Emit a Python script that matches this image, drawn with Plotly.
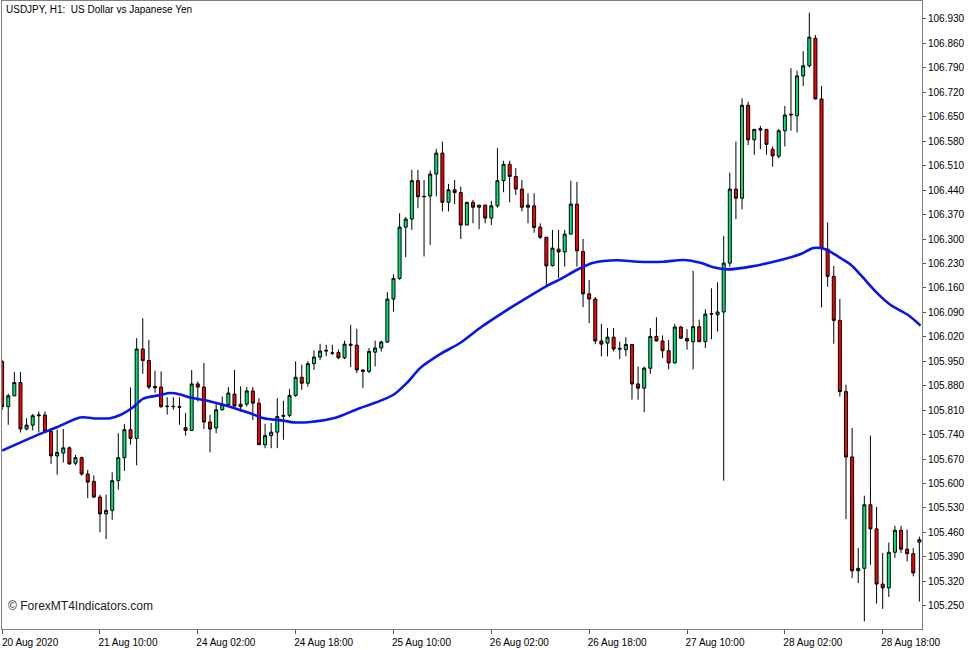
import plotly.graph_objects as go

# ---- data (USDJPY H1) ----
bar_index = list(range(151))

opens = [105.949, 105.820, 105.851, 105.889, 105.756, 105.767, 105.794, 105.796, 105.749, 105.679,
         105.687, 105.702, 105.658, 105.674, 105.627, 105.606, 105.561, 105.513, 105.523, 105.608,
         105.674, 105.754, 105.729, 105.985, 105.952, 105.878, 105.876, 105.820, 105.821, 105.820,
         105.760, 105.752, 105.885, 105.876, 105.776, 105.759, 105.811, 105.826, 105.856, 105.827,
         105.827, 105.865, 105.830, 105.711, 105.737, 105.747, 105.792, 105.795, 105.852, 105.904,
         105.887, 105.943, 105.962, 105.979, 105.974, 105.975, 105.960, 105.999, 105.996, 105.925,
         105.921, 105.976, 105.988, 106.005, 106.128, 106.187, 106.334, 106.357, 106.467, 106.421,
         106.423, 106.486, 106.546, 106.405, 106.441, 106.433, 106.340, 106.405, 106.391, 106.397,
         106.360, 106.395, 106.467, 106.514, 106.479, 106.443, 106.391, 106.395, 106.334, 106.305,
         106.224, 106.271, 106.263, 106.314, 106.400, 106.264, 106.143, 106.128, 106.008, 106.002,
         106.019, 105.987, 105.983, 105.998, 105.885, 105.873, 105.930, 106.021, 106.008, 105.980,
         105.945, 106.048, 106.015, 106.006, 106.049, 106.006, 106.085, 106.083, 106.091, 106.231,
         106.443, 106.417, 106.683, 106.584, 106.616, 106.614, 106.557, 106.537, 106.610, 106.655,
         106.653, 106.767, 106.796, 106.875, 106.701, 106.271, 106.193, 106.067, 105.863, 105.676,
         105.350, 105.357, 105.539, 105.470, 105.312, 105.301, 105.403, 105.466, 105.412, 105.399,
         105.432]

highs = [105.954, 105.857, 105.919, 105.919, 105.787, 105.799, 105.806, 105.806, 105.754, 105.754,
         105.756, 105.706, 105.682, 105.677, 105.639, 105.623, 105.568, 105.568, 105.632, 105.744,
         105.770, 105.875, 106.016, 106.073, 106.011, 105.923, 105.921, 105.847, 105.847, 105.847,
         105.802, 105.925, 105.892, 105.945, 105.797, 105.830, 105.849, 105.876, 105.925, 105.878,
         105.876, 105.876, 105.844, 105.771, 105.773, 105.844, 105.837, 105.871, 105.950, 105.940,
         105.950, 105.981, 106.000, 105.997, 105.997, 105.983, 106.009, 106.054, 106.043, 105.926,
         105.988, 106.009, 106.009, 106.148, 106.199, 106.374, 106.363, 106.498, 106.498, 106.469,
         106.496, 106.558, 106.579, 106.458, 106.469, 106.450, 106.406, 106.412, 106.398, 106.398,
         106.409, 106.560, 106.524, 106.524, 106.503, 106.469, 106.431, 106.431, 106.345, 106.306,
         106.326, 106.326, 106.326, 106.467, 106.464, 106.300, 106.183, 106.134, 106.057, 106.045,
         106.045, 106.006, 106.019, 105.999, 105.935, 105.935, 106.045, 106.076, 106.024, 106.011,
         106.057, 106.051, 106.042, 106.209, 106.069, 106.099, 106.159, 106.176, 106.309, 106.490,
         106.579, 106.703, 106.693, 106.615, 106.624, 106.615, 106.565, 106.615, 106.681, 106.789,
         106.782, 106.838, 106.948, 106.884, 106.738, 106.347, 106.223, 106.128, 105.883, 105.759,
         105.415, 105.565, 105.737, 105.533, 105.401, 105.431, 105.479, 105.479, 105.468, 105.415,
         105.448]

lows = [105.811, 105.768, 105.850, 105.746, 105.752, 105.752, 105.746, 105.744, 105.656, 105.625,
        105.660, 105.654, 105.652, 105.622, 105.558, 105.558, 105.460, 105.441, 105.496, 105.582,
        105.636, 105.711, 105.652, 105.914, 105.870, 105.860, 105.816, 105.797, 105.811, 105.768,
        105.737, 105.750, 105.835, 105.756, 105.689, 105.744, 105.809, 105.820, 105.820, 105.806,
        105.820, 105.782, 105.710, 105.701, 105.701, 105.701, 105.725, 105.790, 105.848, 105.868,
        105.877, 105.925, 105.954, 105.964, 105.968, 105.956, 105.956, 105.933, 105.916, 105.873,
        105.916, 105.935, 105.978, 106.003, 106.092, 106.183, 106.248, 106.326, 106.388, 106.250,
        106.283, 106.422, 106.379, 106.379, 106.400, 106.300, 106.340, 106.345, 106.328, 106.345,
        106.340, 106.390, 106.434, 106.405, 106.426, 106.379, 106.345, 106.318, 106.300, 106.166,
        106.221, 106.188, 106.221, 106.313, 106.221, 106.105, 106.059, 105.999, 105.964, 105.964,
        105.978, 105.956, 105.964, 105.840, 105.840, 105.804, 105.914, 106.007, 105.959, 105.927,
        105.944, 106.015, 105.983, 105.927, 106.005, 105.988, 106.013, 106.035, 105.608, 106.221,
        106.357, 106.385, 106.569, 106.541, 106.557, 106.541, 106.507, 106.531, 106.565, 106.610,
        106.605, 106.738, 106.791, 106.700, 106.104, 106.163, 106.000, 105.849, 105.498, 105.329,
        105.315, 105.205, 105.367, 105.256, 105.241, 105.275, 105.387, 105.401, 105.377, 105.334,
        105.262]

closes = [105.820, 105.851, 105.889, 105.756, 105.767, 105.794, 105.796, 105.749, 105.679, 105.689,
          105.702, 105.656, 105.674, 105.627, 105.604, 105.561, 105.513, 105.523, 105.608, 105.674,
          105.754, 105.729, 105.985, 105.952, 105.876, 105.874, 105.820, 105.821, 105.820, 105.818,
          105.752, 105.885, 105.876, 105.776, 105.756, 105.811, 105.826, 105.859, 105.822, 105.820,
          105.865, 105.830, 105.711, 105.737, 105.747, 105.792, 105.795, 105.852, 105.904, 105.887,
          105.943, 105.962, 105.979, 105.981, 105.973, 105.960, 105.999, 105.996, 105.925, 105.921,
          105.978, 105.988, 106.005, 106.128, 106.187, 106.334, 106.357, 106.467, 106.421, 106.422,
          106.486, 106.546, 106.405, 106.441, 106.433, 106.340, 106.405, 106.391, 106.397, 106.360,
          106.395, 106.467, 106.514, 106.479, 106.443, 106.391, 106.397, 106.333, 106.305, 106.223,
          106.274, 106.263, 106.314, 106.400, 106.266, 106.143, 106.128, 106.008, 105.999, 106.019,
          105.985, 105.985, 105.998, 105.885, 105.873, 105.930, 106.021, 106.008, 105.980, 105.945,
          106.048, 106.016, 106.008, 106.049, 106.006, 106.085, 106.086, 106.091, 106.231, 106.443,
          106.417, 106.683, 106.584, 106.614, 106.612, 106.571, 106.538, 106.610, 106.655, 106.657,
          106.767, 106.796, 106.878, 106.701, 106.274, 106.193, 106.067, 105.863, 105.676, 105.350,
          105.357, 105.539, 105.470, 105.312, 105.301, 105.403, 105.466, 105.412, 105.399, 105.344,
          105.439]

# moving average line (bar position, price)
ma_x = [0, 2.93, 6.2, 8.94, 12.75, 15.48, 17.66, 19.3, 21.47, 23.1, 25.84, 27.48, 29.1, 30.75,
        34.03, 37.3, 40.57, 42.75, 46.0, 47.66, 50.4, 54.5, 58.25, 61.0, 64.0, 66.2, 68.4, 71.7,
        74.95, 78.2, 82.6, 84.7, 89.1, 91.3, 94.04, 96.7, 100.6, 103.9, 108.2, 111.4, 114.2, 116.3,
        118.6, 122.4, 127.8, 130.6, 132.7, 134.4, 135.5, 137.6, 138.8, 140.4, 143.1, 145.3, 148.1,
        150.2]
ma_y = [105.694, 105.717, 105.742, 105.761, 105.789, 105.786, 105.787, 105.796, 105.819, 105.843,
        105.853, 105.859, 105.855, 105.846, 105.835, 105.820, 105.801, 105.787, 105.780, 105.775,
        105.776, 105.788, 105.814, 105.831, 105.854, 105.888, 105.931, 105.971, 106.003, 106.046,
        106.097, 106.120, 106.166, 106.185, 106.212, 106.232, 106.239, 106.235, 106.235, 106.240,
        106.232, 106.219, 106.213, 106.221, 106.242, 106.257, 106.274, 106.272, 106.263, 106.240,
        106.226, 106.197, 106.145, 106.111, 106.083, 106.052]

x_tick_pos = [0, 16, 32, 48, 64, 80, 96, 112, 128, 144]
x_tick_text = ["20 Aug 2020", "21 Aug 10:00", "24 Aug 02:00", "24 Aug 18:00", "25 Aug 10:00",
               "26 Aug 02:00", "26 Aug 18:00", "27 Aug 10:00", "28 Aug 02:00", "28 Aug 18:00"]
y_tick_vals = [round(105.25 + 0.07 * k, 3) for k in range(25)]
y_tick_text = ["%.3f" % v for v in y_tick_vals]

FONT = "Liberation Sans, Arial, sans-serif"

fig = go.Figure()
fig.add_trace(go.Candlestick(
    x=bar_index, open=opens, high=highs, low=lows, close=closes,
    increasing=dict(line=dict(color="#000000", width=1), fillcolor="#00E676"),
    decreasing=dict(line=dict(color="#000000", width=1), fillcolor="#FF0000"),
    whiskerwidth=0, hoverinfo="skip",
))
fig.add_trace(go.Scatter(
    x=ma_x, y=ma_y, mode="lines", line=dict(color="#0A14F0", width=2.6, shape="spline", smoothing=0.8),
    hoverinfo="skip",
))

fig.update_layout(
    width=977, height=650,
    margin=dict(l=2, r=55, t=1, b=21, autoexpand=False),
    paper_bgcolor="white", plot_bgcolor="white",
    showlegend=False,
    font=dict(family=FONT, size=10, color="#000000"),
    annotations=[
        dict(text="USDJPY, H1:  US Dollar vs Japanese Yen", xref="paper", yref="paper",
             x=0.002, y=0.987, xanchor="left", yanchor="middle", showarrow=False,
             font=dict(family=FONT, size=10, color="#000000")),
        dict(text="© ForexMT4Indicators.com", xref="paper", yref="paper",
             x=0.0045, y=0.036, xanchor="left", yanchor="middle", showarrow=False,
             font=dict(family=FONT, size=12, color="#1a1a1a")),
    ],
)
fig.update_xaxes(
    range=[-0.02, 150.43], rangeslider=dict(visible=False),
    tickmode="array", tickvals=x_tick_pos, ticktext=x_tick_text,
    ticks="outside", ticklen=4, tickcolor="#555555", ticklabelshift=28,
    showline=True, linecolor="#808080", linewidth=1, mirror=True,
    showgrid=False, zeroline=False, automargin=False,
    tickfont=dict(family=FONT, size=10, color="#000000"),
)
fig.update_yaxes(
    side="right", range=[105.1833, 106.9815],
    tickmode="array", tickvals=y_tick_vals, ticktext=y_tick_text,
    ticks="outside", ticklen=3, tickcolor="#555555",
    showline=True, linecolor="#808080", linewidth=1, mirror=True,
    showgrid=False, zeroline=False, automargin=False,
    tickfont=dict(family=FONT, size=10, color="#000000"),
)

fig.write_html("out.html")
